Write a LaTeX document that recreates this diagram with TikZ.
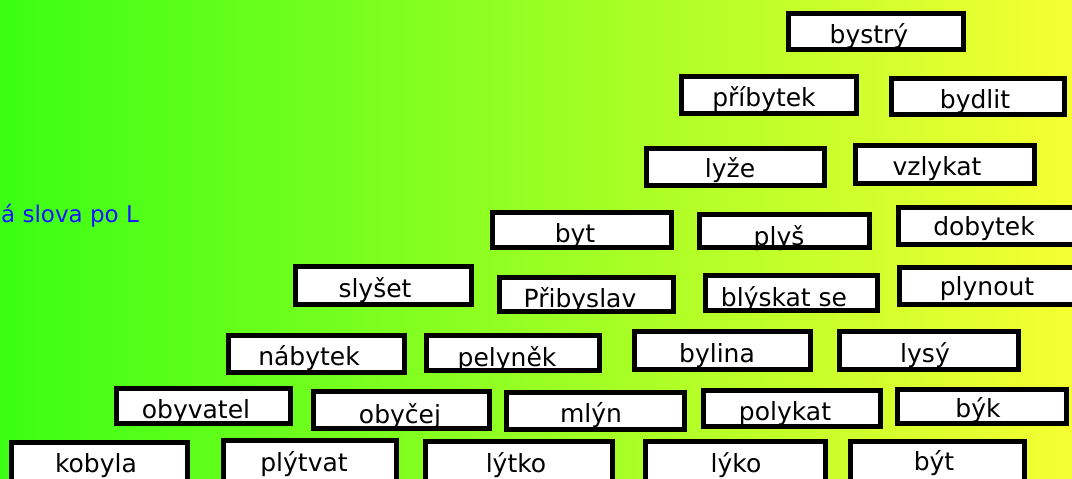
\documentclass[tikz,border=0pt]{standalone}
\usepackage{fontspec}
\setmainfont{DejaVu Sans}
\definecolor{gL}{RGB}{58,255,20}
\definecolor{gM}{RGB}{150,255,35}
\definecolor{gR}{RGB}{245,255,50}
\definecolor{ttl}{RGB}{20,20,255}
\tikzset{
  wbox/.style={draw=black, line width=5pt, fill=white, inner sep=0pt, rectangle},
  wtext/.style={anchor=base, inner sep=0pt, text=black, font=\fontsize{25}{30}\selectfont},
}
\newcommand\wb[8]{%
  \node[wbox, minimum width={#4-#2-5}, minimum height={#5-#3-5}] (#1) at ({(#2+#4)/2},{(#3+#5)/2}) {};
  \node[wtext] (#1t) at (#6,#7) {#8};
}
\begin{document}
\begin{tikzpicture}[x=1pt,y=-1pt]
\useasboundingbox (0,0) rectangle (1072,479);
\shade[left color=gL, middle color=gM, right color=gR] (0,0) rectangle (1072,479);
\node[anchor=base west, inner sep=0pt, text=ttl, font=\fontsize{23}{28}\selectfont] (title) at (1,222) {á slova po L};
\wb{bystry}{786}{11}{966}{52}{869}{43}{bystrý}
\wb{pribytek}{679}{74}{859}{116}{764}{106}{příbytek}
\wb{bydlit}{889}{76}{1067}{117}{975}{108}{bydlit}
\wb{lyze}{644}{146}{827}{188}{730}{177}{lyže}
\wb{vzlykat}{853}{143}{1037}{186}{937}{175}{vzlykat}
\wb{byt}{490}{210}{674}{250}{575}{242}{byt}
\wb{plys}{697}{212}{872}{250}{779}{245}{plyš}
\wb{dobytek}{896}{205}{1080}{247}{984}{235}{dobytek}
\wb{slyset}{293}{264}{474}{307}{375}{297}{slyšet}
\wb{pribyslav}{497}{275}{676}{314}{580}{307}{Přibyslav}
\wb{blyskat}{703}{273}{880}{313}{784}{306}{blýskat se}
\wb{plynout}{897}{265}{1080}{307}{987}{295}{plynout}
\wb{nabytek}{226}{333}{407}{375}{309}{365}{nábytek}
\wb{pelynek}{424}{333}{602}{373}{507}{366}{pelyněk}
\wb{bylina}{632}{329}{813}{372}{717}{362}{bylina}
\wb{lysy}{837}{329}{1021}{372}{925}{362}{lysý}
\wb{obyvatel}{114}{386}{293}{426}{196}{418}{obyvatel}
\wb{obycej}{311}{389}{492}{431}{400}{423}{obyčej}
\wb{mlyn}{504}{390}{687}{432}{591}{422}{mlýn}
\wb{polykat}{701}{388}{883}{429}{785}{420}{polykat}
\wb{byk}{895}{387}{1069}{426}{978}{417}{býk}
\wb{kobyla}{9}{440}{190}{486}{96}{472}{kobyla}
\wb{plytvat}{221}{438}{399}{486}{304}{471}{plýtvat}
\wb{lytko}{423}{439}{615}{486}{516}{472}{lýtko}
\wb{lyko}{643}{439}{828}{486}{736}{472}{lýko}
\wb{bytt}{848}{439}{1027}{486}{934}{470}{být}
\end{tikzpicture}
\end{document}
